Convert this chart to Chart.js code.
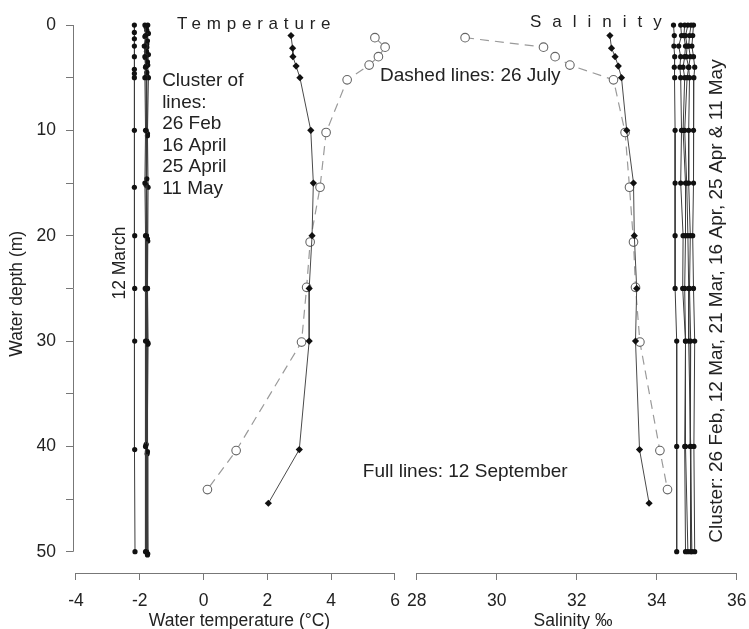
<!DOCTYPE html>
<html><head><meta charset="utf-8">
<script src="https://cdn.jsdelivr.net/npm/chart.js@4.4.1/dist/chart.umd.min.js"></script>
<style>html,body{margin:0;padding:0;background:#fff}</style>
</head><body>
<canvas id="c" width="749" height="629"></canvas>
<script>
// ---------------- DATA ----------------
// Temperature profiles (°C) vs depth (m)
const tempMar12Depth = [0, 0.7, 1.3, 2, 3, 4.2, 4.6, 5, 10, 15.4, 20, 25, 30, 40.3, 50];
const tempMar12      = [-2.17, -2.17, -2.17, -2.17, -2.17, -2.17, -2.17, -2.17, -2.17, -2.17, -2.16, -2.16, -2.16, -2.16, -2.15];

const tempFeb26Depth = [0, 1, 2, 3, 4, 5, 10, 15, 20, 25, 30, 40, 50];
const tempFeb26      = [-1.84, -1.82, -1.86, -1.84, -1.82, -1.84, -1.82, -1.84, -1.82, -1.83, -1.82, -1.82, -1.82];
const tempApr16Depth = [0.5, 1.5, 2.5, 3.5, 4.5, 10.5, 14.6, 20.3, 25, 30.3, 40.5, 50.3];
const tempApr16      = [-1.78, -1.76, -1.79, -1.76, -1.78, -1.76, -1.78, -1.76, -1.76, -1.75, -1.76, -1.76];
const tempApr25Depth = [0.2, 1.1, 2.1, 3.1, 3.9, 4.8, 10, 15.2, 20, 25.1, 30, 39.8, 50];
const tempApr25      = [-1.8, -1.84, -1.78, -1.82, -1.8, -1.78, -1.8, -1.8, -1.79, -1.8, -1.78, -1.8, -1.79];
const tempMay11Depth = [0, 0.8, 1.8, 2.8, 3.8, 5, 10.3, 15.4, 20.5, 25, 30.2, 40.7, 50.2];
const tempMay11      = [-1.75, -1.73, -1.78, -1.73, -1.75, -1.73, -1.76, -1.74, -1.75, -1.76, -1.74, -1.77, -1.75];

// 12 September (full lines, diamonds)
const sep12Depth = [1, 2.2, 3, 3.9, 5, 10, 15, 20, 25, 30, 40.3, 45.4];
const tempSep12  = [2.74, 2.79, 2.8, 2.9, 3.02, 3.36, 3.44, 3.40, 3.31, 3.31, 3.0, 2.03];
const salSep12   = [32.83, 32.87, 32.96, 33.04, 33.12, 33.25, 33.42, 33.44, 33.5, 33.47, 33.57, 33.81];

// 26 July (dashed lines, open circles)
const jul26Depth = [1.2, 2.1, 3, 3.8, 5.2, 10.2, 15.4, 20.6, 24.9, 30.1, 40.4, 44.1];
const tempJul26  = [5.37, 5.69, 5.48, 5.19, 4.5, 3.84, 3.65, 3.34, 3.23, 3.07, 1.02, 0.12];
const salJul26   = [29.21, 31.17, 31.46, 31.83, 32.92, 33.21, 33.32, 33.42, 33.47, 33.58, 34.08, 34.27];

// Salinity cluster (‰)
const salClusterDepth = [0, 1, 2, 3, 4, 5, 10, 15, 20, 25, 30, 40, 50];
const salFeb26 = [34.42, 34.44, 34.43, 34.45, 34.44, 34.45, 34.46, 34.46, 34.46, 34.46, 34.5, 34.5, 34.5];
const salMar12 = [34.6, 34.62, 34.55, 34.6, 34.58, 34.6, 34.62, 34.6, 34.66, 34.65, 34.72, 34.7, 34.72];
const salMar21 = [34.7, 34.68, 34.72, 34.7, 34.66, 34.7, 34.66, 34.72, 34.72, 34.7, 34.72, 34.72, 34.78];
const salApr16 = [34.78, 34.72, 34.76, 34.74, 34.8, 34.76, 34.7, 34.75, 34.78, 34.8, 34.8, 34.85, 34.85];
const salApr25 = [34.86, 34.82, 34.8, 34.84, 34.8, 34.82, 34.8, 34.8, 34.84, 34.82, 34.85, 34.84, 34.88];
const salMay11 = [34.92, 34.9, 34.88, 34.92, 34.95, 34.93, 34.92, 34.92, 34.9, 34.92, 34.95, 34.93, 34.95];

// Axis titles
const tempTitle = 'Water temperature (°C)';
const salTitle = 'Salinity ‰';
const depthTitle = 'Water depth (m)';

// ---------------- CHART ----------------
const FONT = '"Liberation Sans", Arial, Helvetica, sans-serif';
const TXT = '#222';
const AX = '#777';

function pts(depths, vals) { return vals.map((v, i) => ({ x: v, y: depths[i] })); }

function cluster(label, xAxisID, depths, vals) {
  return { label, xAxisID, yAxisID: 'y', data: pts(depths, vals), showLine: true,
    borderColor: '#3c3c3c', borderWidth: 1, pointStyle: 'circle', pointRadius: 2.6,
    pointBackgroundColor: '#111', pointBorderColor: '#111', pointBorderWidth: 0 };
}
function sept(label, xAxisID, vals) {
  return { label, xAxisID, yAxisID: 'y', data: pts(sep12Depth, vals), showLine: true,
    borderColor: '#4a4a4a', borderWidth: 1, pointStyle: 'rectRot', pointRadius: 3.6,
    pointBackgroundColor: '#111', pointBorderColor: '#111', pointBorderWidth: 0 };
}
function july(label, xAxisID, vals) {
  return { label, xAxisID, yAxisID: 'y', data: pts(jul26Depth, vals), showLine: true,
    borderColor: '#9a9a9a', borderWidth: 1.2, borderDash: [9, 6], pointStyle: 'circle', pointRadius: 4.3,
    pointBackgroundColor: '#fff', pointBorderColor: '#666', pointBorderWidth: 1.1 };
}

const datasets = [
  sept('T 12 Sep', 'xT', tempSep12),
  sept('S 12 Sep', 'xS', salSep12),
  july('T 26 Jul', 'xT', tempJul26),
  july('S 26 Jul', 'xS', salJul26),
  cluster('T 12 Mar', 'xT', tempMar12Depth, tempMar12),
  cluster('T 26 Feb', 'xT', tempFeb26Depth, tempFeb26),
  cluster('T 16 Apr', 'xT', tempApr16Depth, tempApr16),
  cluster('T 25 Apr', 'xT', tempApr25Depth, tempApr25),
  cluster('T 11 May', 'xT', tempMay11Depth, tempMay11),
  cluster('S 26 Feb', 'xS', salClusterDepth, salFeb26),
  cluster('S 12 Mar', 'xS', salClusterDepth, salMar12),
  cluster('S 21 Mar', 'xS', salClusterDepth, salMar21),
  cluster('S 16 Apr', 'xS', salClusterDepth, salApr16),
  cluster('S 25 Apr', 'xS', salClusterDepth, salApr25),
  cluster('S 11 May', 'xS', salClusterDepth, salMay11)
];

// R-style axis lines spanning first..last tick
const rAxes = {
  id: 'rAxes',
  beforeDatasetsDraw(chart) {
    const ctx = chart.ctx, ca = chart.chartArea, s = chart.scales;
    ctx.save(); ctx.strokeStyle = AX; ctx.lineWidth = 1;
    const ln = (x1, y1, x2, y2) => { ctx.beginPath(); ctx.moveTo(x1, y1); ctx.lineTo(x2, y2); ctx.stroke(); };
    const yt = s.y.ticks, xL = Math.round(ca.left) + 0.5;
    ln(xL, s.y.getPixelForValue(yt[0].value), xL, s.y.getPixelForValue(yt[yt.length - 1].value));
    const yB = Math.round(ca.bottom) + 0.5;
    [s.xT, s.xS].forEach(sc => {
      const t = sc.ticks;
      ln(sc.getPixelForValue(t[0].value), yB, sc.getPixelForValue(t[t.length - 1].value), yB);
    });
    ctx.restore();
  }
};

// Annotation texts placed in data coordinates
const notes = {
  id: 'notes',
  afterDatasetsDraw(chart) {
    const ctx = chart.ctx, s = chart.scales;
    const X = (sc, v) => s[sc].getPixelForValue(v), Y = v => s.y.getPixelForValue(v);
    ctx.save();
    ctx.fillStyle = TXT; ctx.textBaseline = 'middle'; ctx.textAlign = 'left';
    const spaced = (txt, x, y, sp) => {
      ctx.font = '17px ' + FONT;
      if ('letterSpacing' in ctx) { ctx.letterSpacing = sp + 'px'; ctx.fillText(txt, x, y); ctx.letterSpacing = '0px'; }
      else ctx.fillText(txt.split('').join(' '), x, y);
    };
    spaced('Temperature', X('xT', -0.83), Y(-0.1), 5.8);
    spaced('Salinity', X('xS', 30.83), Y(-0.25), 11);

    ctx.font = '19px ' + FONT;
    const cl = ['Cluster of', 'lines:', '26 Feb', '16 April', '25 April', '11 May'];
    cl.forEach((t, i) => ctx.fillText(t, X('xT', -1.3), Y(5.3) + i * 21.5));
    ctx.fillText('Dashed lines: 26 July', X('xT', 5.53), Y(4.8));
    ctx.fillText('Full lines: 12 September', X('xT', 4.99), Y(42.45));

    ctx.textAlign = 'center';
    ctx.save(); ctx.translate(X('xT', -2.62), Y(22.6)); ctx.rotate(-Math.PI / 2);
    ctx.font = '17.5px ' + FONT; ctx.fillText('12 March', 0, 0); ctx.restore();
    ctx.save(); ctx.translate(X('xS', 35.51), Y(26.2)); ctx.rotate(-Math.PI / 2);
    ctx.font = '19px ' + FONT; ctx.fillText('Cluster: 26 Feb, 12 Mar, 21 Mar, 16 Apr, 25 Apr & 11 May', 0, 0); ctx.restore();
    ctx.restore();
  }
};

function zeroPad(sc) { sc.paddingTop = 0; sc.paddingBottom = 0; sc.paddingLeft = 0; sc.paddingRight = 0; }

const tickFont = { family: FONT, size: 17.5 };
function xAxis(min, max, weight, title) {
  return {
    type: 'linear', position: 'bottom', stack: 'bottomStack', stackWeight: weight,
    min, max,
    afterFit(sc) { sc.height = 56; zeroPad(sc); },
    border: { display: false },
    grid: { display: true, drawOnChartArea: false, drawTicks: true, tickLength: 7, color: AX, lineWidth: 1 },
    ticks: { stepSize: 2, includeBounds: false, autoSkip: false, maxRotation: 0, padding: 11, color: TXT, font: tickFont },
    title: { display: true, text: title, color: TXT, font: { family: FONT, size: 17.5, lineHeight: 0.85 }, padding: { top: 0, bottom: 0 } }
  };
}

new Chart(document.getElementById('c'), {
  type: 'scatter',
  data: { datasets },
  options: {
    responsive: false, animation: false, devicePixelRatio: 1,
    layout: { padding: { left: 0, right: 9, top: 14.5, bottom: 0 } },
    plugins: { legend: { display: false }, tooltip: { enabled: false } },
    scales: {
      xT: xAxis(-4.094, 6.345, 333, tempTitle),
      xS: xAxis(27.7325, 36.0825, 334, salTitle),
      y: {
        type: 'linear', position: 'left', reverse: true, min: -1, max: 52.02,
        afterFit(sc) { sc.width = 73; zeroPad(sc); },
        border: { display: false },
        grid: { display: true, drawOnChartArea: false, drawTicks: true, tickLength: 7, color: AX, lineWidth: 1 },
        ticks: { stepSize: 5, includeBounds: false, autoSkip: false, padding: 10, color: TXT, font: tickFont,
                 callback: v => (v % 10 === 0 ? String(v) : '') },
        title: { display: true, text: depthTitle, color: TXT, font: { family: FONT, size: 17.5 }, padding: { top: 6.5, bottom: 0 } }
      }
    }
  },
  plugins: [rAxes, notes]
});
</script>
</body></html>
